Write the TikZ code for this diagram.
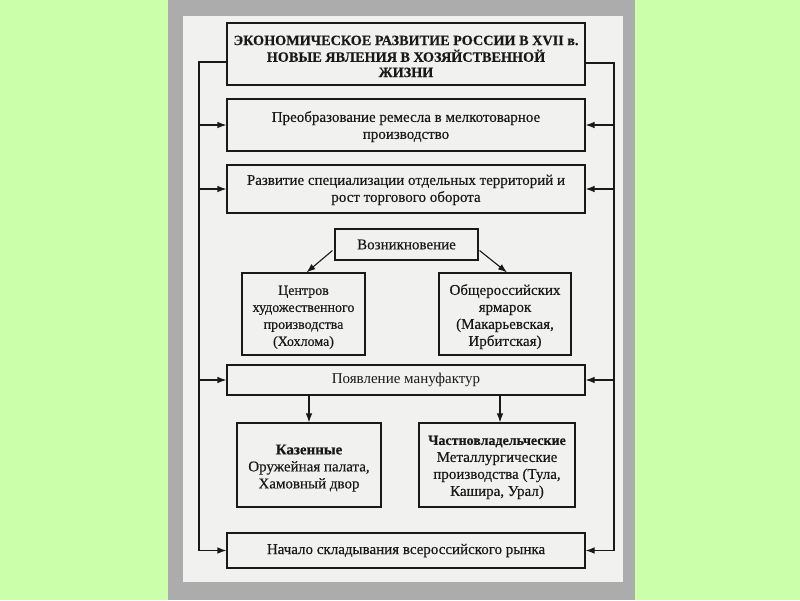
\documentclass[tikz,border=0pt]{standalone}
\usepackage{fontspec}
\setmainfont{Liberation Serif}[FakeBold=0.35]
\newfontfamily\plainfont{Liberation Serif}
\usetikzlibrary{arrows.meta}
\definecolor{bggreen}{RGB}{204,255,170}
\definecolor{panelgray}{RGB}{172,172,172}
\definecolor{paper}{RGB}{241,241,239}
\definecolor{ink}{RGB}{25,25,25}
\newcommand{\btxt}[2][2pt]{\raisebox{-#1}[\height][\depth]{\begin{tabular}{@{}c@{}}#2\end{tabular}}}
\tikzset{
  box/.style={draw=ink, line width=1.1pt, fill=paper, align=center, inner sep=1pt,
    font=\fontsize{15}{17}\selectfont, text=ink},
  arr/.style={draw=ink, line width=1.1pt, -{Latex[length=9pt,width=6.5pt]}},
}
\begin{document}
\begin{tikzpicture}[x=1pt,y=-1pt]
\fill[bggreen] (0,0) rectangle (800,600);
\useasboundingbox (0,0) rectangle (800,600);
\fill[panelgray] (168,0) rectangle (635,600);
\fill[paper] (183,16) rectangle (623,582);

\node[box, minimum width=358pt, minimum height=62pt, font=\bfseries\fontsize{14.2}{15.3}\selectfont] (title) at (406,54)
  {\btxt[4pt]{ЭКОНОМИЧЕСКОЕ РАЗВИТИЕ РОССИИ В XVII в.\\НОВЫЕ ЯВЛЕНИЯ В ХОЗЯЙСТВЕННОЙ\\ЖИЗНИ}};
\node[box, minimum width=358pt, minimum height=52pt] (b2) at (406,125)
  {\btxt{Преобразование ремесла в мелкотоварное\\производство}};
\node[box, minimum width=358pt, minimum height=48pt] (b3) at (406,189)
  {\btxt[1pt]{Развитие специализации отдельных территорий и\\рост торгового оборота}};
\node[box, minimum width=143pt, minimum height=31pt] (vozn) at (406.5,244.5) {Возникновение};
\node[box, minimum width=123pt, minimum height=82pt, font=\fontsize{14}{17}\selectfont] (centr) at (303.5,314)
  {\btxt[3pt]{Центров\\художественного\\производства\\(Хохлома)}};
\node[box, minimum width=132pt, minimum height=82pt] (yarm) at (505,314)
  {\btxt[3pt]{Общероссийских\\ярмарок\\(Макарьевская,\\Ирбитская)}};
\node[box, minimum width=358pt, minimum height=30pt, font=\plainfont\fontsize{15}{17}\selectfont] (manuf) at (406,380) {Появление мануфактур};
\node[box, minimum width=144pt, minimum height=84pt] (kazen) at (309,465)
  {\btxt[3pt]{\textbf{Казенные}\\Оружейная палата,\\Хамовный двор}};
\node[box, minimum width=156pt, minimum height=84pt] (chast) at (497,465)
  {\btxt{{\fontsize{14}{17}\selectfont\textbf{Частновладельческие}}\\Металлургические\\производства (Тула,\\Кашира, Урал)}};
\node[box, minimum width=358pt, minimum height=35pt] (rynok) at (406,550.5)
  {Начало складывания всероссийского рынка};

\coordinate (lft) at (199,0);
\coordinate (rgt) at (614,0);

% side trunks
\draw[arr] ([yshift=-8pt]title.west) -| (lft |- rynok.west) -- (rynok.west);
\draw[arr] ([yshift=-9pt]title.east) -| (rgt |- rynok.east) -- (rynok.east);
\foreach \n in {b2,b3,manuf}{
  \draw[arr] (lft |- \n.west) -- (\n.west);
  \draw[arr] (rgt |- \n.east) -- (\n.east);
}
% Возникновение
\draw[arr] ([xshift=-2pt,yshift=-6pt]vozn.west) -- ([xshift=3pt]centr.north);
\draw[arr] ([xshift=1pt,yshift=-6pt]vozn.east) -- ([xshift=2pt]yarm.north);
% мануфактуры
\draw[arr] (kazen.north |- manuf.south) -- (kazen.north);
\draw[arr] ([xshift=3pt]chast.north |- manuf.south) -- ([xshift=3pt]chast.north);
\end{tikzpicture}
\end{document}
